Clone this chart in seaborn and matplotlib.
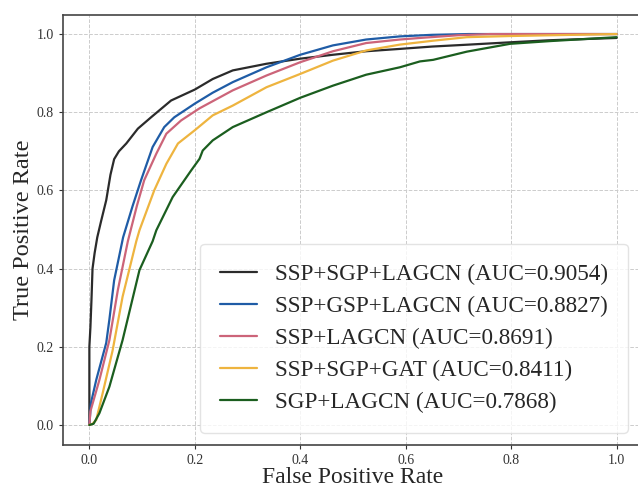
import pandas as pd
import matplotlib
matplotlib.use('Agg')
import matplotlib.pyplot as plt
import seaborn as sns

sns.set_style('ticks')
plt.rcParams['font.family'] = ['Liberation Serif', 'DejaVu Serif']

# ROC curve points
models = ['SSP+SGP+LAGCN (AUC=0.9054)', 'SSP+GSP+LAGCN (AUC=0.8827)',
          'SSP+LAGCN (AUC=0.8691)', 'SSP+SGP+GAT (AUC=0.8411)', 'SGP+LAGCN (AUC=0.7868)']

fpr_black = [0, 0, 0.002, 0.004, 0.006, 0.010, 0.015, 0.022, 0.032, 0.040, 0.047, 0.056, 0.070,
             0.092, 0.117, 0.155, 0.20, 0.234, 0.272, 0.336, 0.40, 0.462, 0.525, 0.589, 0.65,
             0.72, 0.80, 0.87, 1.0]
tpr_black = [0, 0.20, 0.25, 0.32, 0.40, 0.44, 0.48, 0.52, 0.575, 0.64, 0.68, 0.70, 0.72,
             0.758, 0.787, 0.83, 0.858, 0.885, 0.907, 0.924, 0.937, 0.947, 0.956, 0.962, 0.968,
             0.973, 0.979, 0.984, 0.99]

fpr_blue = [0, 0.003, 0.013, 0.032, 0.038, 0.047, 0.064, 0.082, 0.098, 0.12, 0.142, 0.161,
            0.20, 0.234, 0.272, 0.336, 0.40, 0.462, 0.525, 0.589, 0.65, 0.72, 1.0]
tpr_blue = [0, 0.056, 0.115, 0.21, 0.27, 0.37, 0.48, 0.56, 0.626, 0.711, 0.762, 0.787,
            0.822, 0.85, 0.877, 0.915, 0.947, 0.971, 0.986, 0.994, 0.998, 1.0, 1.0]

fpr_red = [0, 0.002, 0.019, 0.038, 0.054, 0.073, 0.090, 0.104, 0.127, 0.146, 0.174, 0.209,
           0.272, 0.336, 0.40, 0.462, 0.525, 0.589, 0.627, 0.70, 0.76, 1.0]
tpr_red = [0, 0.035, 0.115, 0.217, 0.345, 0.47, 0.56, 0.626, 0.694, 0.745, 0.779, 0.81,
           0.856, 0.894, 0.928, 0.956, 0.977, 0.986, 0.99, 0.997, 1.0, 1.0]

fpr_yellow = [0, 0.006, 0.013, 0.025, 0.044, 0.063, 0.089, 0.095, 0.123, 0.146, 0.168, 0.20,
              0.234, 0.272, 0.336, 0.40, 0.462, 0.525, 0.589, 0.627, 0.652, 0.716, 0.80, 1.0]
tpr_yellow = [0, 0.003, 0.013, 0.08, 0.19, 0.328, 0.47, 0.498, 0.60, 0.668, 0.72, 0.754,
              0.792, 0.817, 0.864, 0.898, 0.932, 0.958, 0.973, 0.979, 0.983, 0.992, 0.995, 1.0]

fpr_green = [0, 0.008, 0.019, 0.038, 0.063, 0.095, 0.12, 0.127, 0.158, 0.193, 0.209, 0.215,
             0.234, 0.272, 0.336, 0.40, 0.462, 0.525, 0.589, 0.627, 0.652, 0.716, 0.798, 0.874, 1.0]
tpr_green = [0, 0.003, 0.03, 0.098, 0.217, 0.396, 0.47, 0.498, 0.583, 0.651, 0.681, 0.702,
             0.728, 0.762, 0.80, 0.837, 0.868, 0.896, 0.915, 0.93, 0.934, 0.955, 0.975, 0.982, 0.992]

colors = ['#2b2b2b', '#1f5ca6', '#cc6479', '#eeb43f', '#1b5e1f']

curves = [(fpr_black, tpr_black), (fpr_blue, tpr_blue), (fpr_red, tpr_red),
          (fpr_yellow, tpr_yellow), (fpr_green, tpr_green)]
frames = []
for name, (f, t) in zip(models, curves):
    frames.append(pd.DataFrame({'fpr': f, 'tpr': t, 'model': name}))
df = pd.concat(frames, ignore_index=True)

fig = plt.figure(figsize=(6.38, 4.87), dpi=100)
ax = fig.add_axes([63 / 638, 1 - 444.5 / 487, 580 / 638, 430 / 487])

sns.lineplot(data=df, x='fpr', y='tpr', hue='model', palette=dict(zip(models, colors)),
             sort=False, estimator=None, linewidth=1.6, ax=ax)

ax.set_xlim(-0.05, 1.05)
ax.set_ylim(-0.05, 1.05)
ax.set_xticks([0, 0.2, 0.4, 0.6, 0.8, 1.0])
ax.set_yticks([0, 0.2, 0.4, 0.6, 0.8, 1.0])
ax.tick_params(labelsize=10, colors='#333333', length=3, width=0.8)
ax.grid(True, linestyle='--', color='#cccccc', linewidth=0.7)
for s in ax.spines.values():
    s.set_color('#444444')
    s.set_linewidth(1.2)

ax.set_xlabel('False Positive Rate', fontsize=17, labelpad=0)
ax.set_ylabel('True Positive Rate', fontsize=17.5, labelpad=2)

ax.legend(title=None, fontsize=16.7, loc='lower right', bbox_to_anchor=(628 / 638, 1 - 433 / 487),
          bbox_transform=fig.transFigure, borderaxespad=0, borderpad=0.85, labelspacing=0.47,
          handlelength=1.6, frameon=True, edgecolor='#dddddd')

fig.savefig('out.png', dpi=100)
